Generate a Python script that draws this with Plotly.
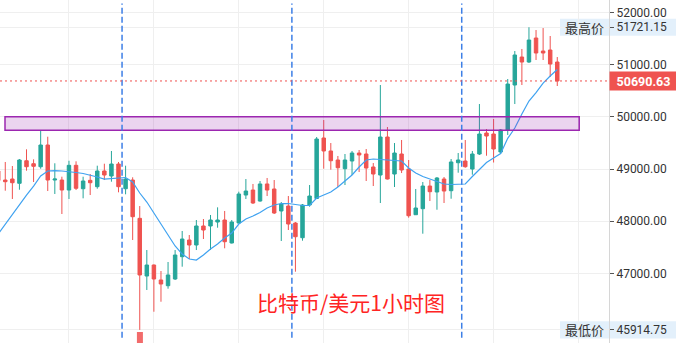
import plotly.graph_objects as go

# ---- data (BTC/USD, 1h candles) ----
opens = [48963, 48790, 48809, 48727, 49160, 49103, 49045, 49462, 48790, 48790,
         48598, 49072, 48623, 48784, 48662, 48963, 48867, 49097, 48623, 48790,
         48055, 46948, 47159, 46872, 46762, 46891, 47319, 47639, 47543, 47908,
         47908, 47984, 48023, 47582, 47965, 48502, 48598, 48387, 48714, 48618,
         48196, 48291, 47965, 47683, 48311, 48435, 49596, 49347, 49174, 49007,
         49155, 49308, 49289, 49040, 48886, 49615, 48905, 49289, 49001, 48124,
         48240, 48675, 48560, 48809, 48585, 49122, 49155, 49001, 49289, 49692,
         49673, 49327, 49750, 50613, 51150, 51054, 51515, 51265, 51284, 51054]
highs = [49059, 49136, 49059, 49193, 49379, 49187, 49730, 49621, 49111, 48854,
         49160, 49149, 48854, 48905, 49065, 49103, 49347, 49136, 49065, 48842,
         48291, 47447, 47170, 47044, 47217, 47447, 47812, 47735, 48023, 48042,
         48119, 48266, 48196, 48023, 48566, 48809, 48714, 48771, 48829, 48790,
         48368, 48483, 47984, 48330, 48694, 49615, 49941, 49500, 49251, 49289,
         49347, 49366, 49385, 49116, 50613, 49807, 49500, 49558, 49174, 48618,
         48752, 48790, 48848, 48848, 49193, 49308, 49558, 49347, 50248, 49769,
         49961, 49769, 50728, 51265, 51304, 51721.15, 51668, 51706, 51553, 51150]
lows = [48675, 48585, 48426, 48604, 48969, 48752, 49007, 48579, 48522, 48138,
        48426, 48598, 48439, 48502, 48623, 48790, 48758, 48554, 48516, 47639,
        45914.75, 46680, 46263, 46455, 46705, 46872, 47127, 47274, 47447, 47658,
        47447, 47875, 47480, 47572, 47960, 48426, 48330, 48374, 48483, 48138,
        47620, 47831, 47031, 47626, 48278, 48426, 49007, 48988, 48656, 48694,
        48886, 48944, 48771, 48675, 48349, 48800, 48656, 48924, 48067, 48119,
        47760, 48387, 48220, 48349, 48431, 48930, 49026, 48892, 49270, 49256,
        49126, 49289, 49654, 50248, 50613, 51035, 51093, 51093, 50766, 50594]
closes = [48781, 48758, 48738, 49174, 49045, 49053, 49462, 48790, 48809, 48598,
          49072, 48631, 48771, 48738, 48963, 48886, 49097, 48662, 48809, 48086,
          46968, 47159, 46891, 46795, 46968, 47351, 47658, 47543, 47908, 47831,
          48023, 48023, 47606, 47984, 48522, 48579, 48349, 48714, 48598, 48157,
          48330, 47946, 47702, 48311, 48483, 49577, 49347, 49160, 49026, 49174,
          49308, 49270, 49020, 48905, 49615, 48809, 49308, 48982, 48105, 48253,
          48675, 48566, 48829, 48579, 49136, 49174, 49045, 49289, 49673, 49634,
          49385, 49750, 50632, 51189, 51054, 51476, 51227, 51227, 51016, 50690.63]
ma_line = [47754, 47946, 48138, 48330, 48502, 48675, 48867, 48963, 48972, 48963,
           48953, 48934, 48915, 48886, 48848, 48809, 48819, 48838, 48838, 48752,
           48541, 48368, 48157, 47946, 47716, 47524, 47370, 47274, 47255, 47351,
           47466, 47562, 47677, 47773, 47946, 48042, 48100, 48167, 48253, 48311,
           48339, 48339, 48320, 48301, 48301, 48445, 48502, 48560, 48656, 48771,
           48886, 49040, 49174, 49193, 49184, 49174, 49174, 49155, 49020, 48924,
           48857, 48809, 48752, 48714, 48704, 48704, 48714, 48857, 48982, 49126,
           49212, 49299, 49590, 49788, 50056, 50306, 50469, 50651, 50785, 50910]
x_idx = list(range(len(opens)))

y_ticks = [47000, 48000, 49000, 50000, 51000, 52000]
high_price = 51721.15
low_price = 45914.75
last_price = 50690.63
zone_low, zone_high = 49744, 50004
session_marks = [17.5, 41.5, 65.5]
grid_x = [10, 22, 34, 46, 58, 70, 82]
title_text = "比特币/美元1小时图"

GREEN = "#26a69a"
RED = "#ef5350"

fig = go.Figure()
fig.add_trace(go.Candlestick(
    x=x_idx, open=opens, high=highs, low=lows, close=closes,
    increasing=dict(line=dict(color=GREEN, width=1), fillcolor=GREEN),
    decreasing=dict(line=dict(color=RED, width=1), fillcolor=RED),
    whiskerwidth=0, showlegend=False, hoverinfo="skip"))
fig.add_trace(go.Scatter(x=x_idx, y=ma_line, mode="lines",
                         line=dict(color="#3fa2f0", width=1.2),
                         showlegend=False, hoverinfo="skip"))

shapes = []
# support zone
shapes.append(dict(type="rect", xref="x", yref="y", x0=0.96, x1=82.1,
                   y0=zone_low, y1=zone_high,
                   fillcolor="rgba(156,39,176,0.2)",
                   line=dict(color="#9c27b0", width=1.5), layer="above"))
# session dashed lines
for sx in session_marks:
    shapes.append(dict(type="line", xref="x", yref="paper", x0=sx, x1=sx,
                       y0=0.015, y1=0.99,
                       line=dict(color="#3d7fe6", width=1.5, dash="6px,3px")))
# last price dotted line
shapes.append(dict(type="line", xref="paper", yref="y", x0=0, x1=1,
                   y0=last_price, y1=last_price,
                   line=dict(color=RED, width=1, dash="2px,3px")))
# high / low label bands
for p in (high_price, low_price):
    shapes.append(dict(type="rect", xref="paper", yref="y",
                       x0=560/609, x1=676/609, y0=p - 165, y1=p + 165,
                       fillcolor="#e3f0fb", line=dict(width=0), layer="below"))
# low marker (cut off at bottom)
shapes.append(dict(type="rect", xref="x", yref="paper", x0=19.6, x1=20.45,
                   y0=0, y1=11/343, fillcolor="#f26b6b", line=dict(width=0)))

annotations = [
    dict(x=584/609, y=high_price, xref="paper", yref="y", text="最高价",
         xanchor="center", yanchor="middle", showarrow=False,
         font=dict(family="Noto Sans CJK SC", size=13, color="#333")),
    dict(x=584/609, y=low_price, xref="paper", yref="y", text="最低价",
         xanchor="center", yanchor="middle", showarrow=False,
         font=dict(family="Noto Sans CJK SC", size=13, color="#333")),
    dict(x=1, y=last_price, xref="paper", yref="y", text="<b>50690.63</b>",
         xanchor="left", yanchor="middle", showarrow=False, bgcolor=RED,
         width=63, height=14, borderpad=2, align="center",
         font=dict(family="Roboto", size=12.5, color="white")),
    dict(x=351/609, y=1 - 302/343, xref="paper", yref="paper", text=title_text,
         xanchor="center", yanchor="middle", showarrow=False,
         font=dict(family="Noto Sans CJK SC", size=21, color="#ff2424")),
]

fig.update_layout(
    width=676, height=343,
    margin=dict(l=0, r=67, t=0, b=0),
    paper_bgcolor="white", plot_bgcolor="white",
    shapes=shapes, annotations=annotations,
    xaxis=dict(range=[0.254, 86.31], rangeslider=dict(visible=False),
               tickmode="array", tickvals=grid_x, showticklabels=False,
               showgrid=True, gridcolor="#efefef", zeroline=False,
               showline=False, fixedrange=True, automargin=False),
    yaxis=dict(side="right", range=[45663, 52244],
               tickmode="array", tickvals=y_ticks + [high_price, low_price],
               tickformat=".2f", ticks="outside", ticklen=4, tickcolor="#555",
               showgrid=True, gridcolor="#efefef", zeroline=False,
               showline=True, linecolor="#d6d6d6", linewidth=1,
               tickfont=dict(family="Roboto", size=12, color="#333"),
               fixedrange=True, automargin=False),
)
fig.write_html("out.html")
